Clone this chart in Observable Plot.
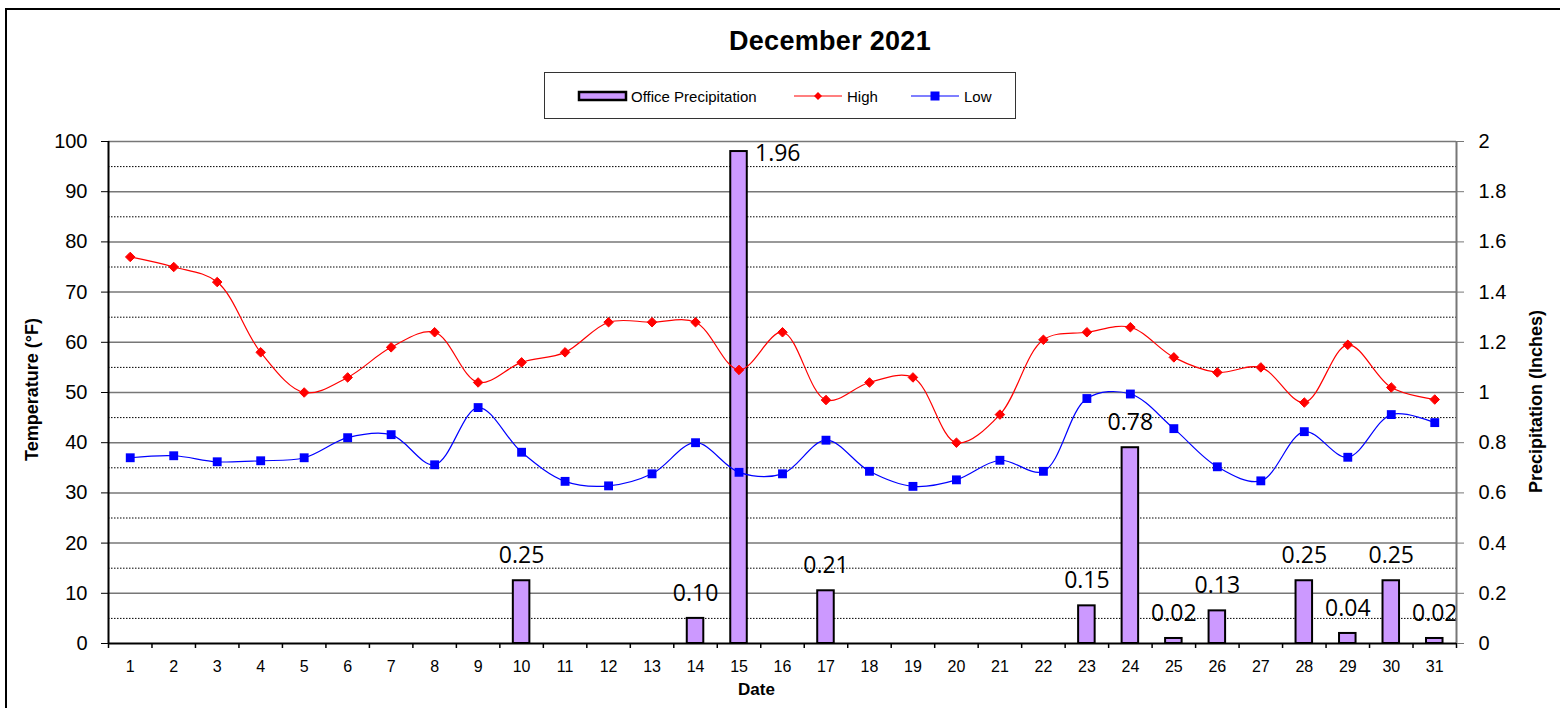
<!DOCTYPE html>
<html>
<head>
<meta charset="utf-8">
<script src="https://cdn.jsdelivr.net/npm/d3@7"></script>
<script src="https://cdn.jsdelivr.net/npm/@observablehq/plot@0.6"></script>
<style>
  html, body { margin: 0; padding: 0; background: #fff; }
  #wrap { position: relative; width: 1560px; height: 708px; overflow: hidden; font-family: "Liberation Sans", Arial, sans-serif; }
  #header { position: relative; width: 1560px; height: 125px; }
  #title { position: absolute; left: 0; width: 1660px; top: 26px; text-align: center; font-size: 27px; font-weight: bold; color: #000; letter-spacing: 0.3px; }
  #legend { position: absolute; left: 544px; top: 72px; width: 472px; height: 47px; border: 1px solid #333; box-sizing: border-box; }
  #frame { position: absolute; left: 5px; top: 8px; width: 1600px; height: 800px; border-top: 2px solid #000; border-left: 2px solid #000; pointer-events: none; }
</style>
</head>
<body>
<div id="wrap">
  <div id="header">
    <div id="title">December 2021</div>
    <div id="legend"></div>
  </div>
  <div id="chart"></div>
  <div id="frame"></div>
</div>
<script>
// ---- data ----
const days = [1,2,3,4,5,6,7,8,9,10,11,12,13,14,15,16,17,18,19,20,21,22,23,24,25,26,27,28,29,30,31];
const highs = [77,75,72,58,50,53,59,62,52,56,58,64,64,64,54.5,62,48.5,52,53,40,45.6,60.5,62,63,57,54,55,48,59.5,51,48.6];
const lows = [37,37.4,36.2,36.4,37,41,41.6,35.6,47,38.1,32.3,31.4,33.8,40,34.1,33.8,40.5,34.3,31.3,32.6,36.5,34.3,48.8,49.7,42.8,35.2,32.4,42.2,37.1,45.6,44];
const precips = [0,0,0,0,0,0,0,0,0,0.25,0,0,0,0.10,1.96,0,0.21,0,0,0,0,0,0.15,0.78,0.02,0.13,0,0.25,0.04,0.25,0.02];
const tempTicks = [0,10,20,30,40,50,60,70,80,90,100];
const precipTicks = [0,0.2,0.4,0.6,0.8,1,1.2,1.4,1.6,1.8,2];
const seriesNames = ["Office Precipitation", "High", "Low"];
const colors = {precip: "#CC99FF", high: "#FF0000", low: "#0000FF"};

// ---- derived ----
const tempMax = tempTicks[tempTicks.length - 1];
const precipMax = precipTicks[precipTicks.length - 1];
const k = tempMax / precipMax; // temperature units per inch
const rows = days.map((d, i) => ({day: d, high: highs[i], low: lows[i], precip: precips[i]}));
const wet = rows.filter(r => r.precip > 0);
const big = wet.filter(r => r.precip > 1.5);
const small = wet.filter(r => r.precip <= 1.5);
const minorTicks = tempTicks.slice(1).map(t => t - 5);
const boundaries = days.map(d => d - 0.5).concat([days[days.length - 1] + 0.5]);
const x0 = days[0] - 0.5, x1 = days[days.length - 1] + 0.5;

const chart = Plot.plot({
  width: 1560,
  height: 583,
  marginTop: 16,
  marginBottom: 65,
  marginLeft: 108,
  marginRight: 104,
  x: {type: "linear", domain: [x0, x1]},
  y: {domain: [0, tempMax]},
  style: {fontFamily: "'Liberation Sans', Arial, sans-serif", background: "white", overflow: "visible", color: "#000"},
  marks: [
    Plot.ruleY(minorTicks, {x1: x0, x2: x1, stroke: "#000", strokeWidth: 1, strokeDasharray: "1.5,1.5"}),
    Plot.ruleY(tempTicks.slice(1), {x1: x0, x2: x1, stroke: "#777", strokeWidth: 1.5}),
    Plot.rectY(wet, {x1: d => d.day - 0.19, x2: d => d.day + 0.19, y1: 0, y2: d => d.precip * k, fill: colors.precip, stroke: "#000", strokeWidth: 2}),
    Plot.line(rows, {x: "day", y: "high", curve: "catmull-rom", stroke: colors.high, strokeWidth: 1.2}),
    Plot.dot(rows, {x: "day", y: "high", symbol: "diamond2", r: 4.3, fill: colors.high, stroke: colors.high, strokeWidth: 1}),
    Plot.line(rows, {x: "day", y: "low", curve: "catmull-rom", stroke: colors.low, strokeWidth: 1.2}),
    Plot.dot(rows, {x: "day", y: "low", symbol: "square", r: 5, fill: colors.low, stroke: "none"}),
    Plot.text(small, {x: "day", y: d => (d.precip + 0.1) * k, text: d => d.precip.toFixed(2), fontFamily: "'Open Sans', sans-serif", fontSize: 23, fill: "#000"}),
    Plot.text(big, {x: "day", y: d => d.precip * k, text: d => d.precip.toFixed(2), textAnchor: "start", dx: 16, dy: 2, fontFamily: "'Open Sans', sans-serif", fontSize: 23, fill: "#000"}),
    Plot.ruleX([x1], {y1: 0, y2: tempMax, stroke: "#777", strokeWidth: 2}),
    Plot.ruleX([x0], {y1: 0, y2: tempMax, stroke: "#000", strokeWidth: 2}),
    Plot.ruleY([0], {x1: x0, x2: x1, stroke: "#000", strokeWidth: 2}),
    Plot.ruleX(boundaries, {y1: 0, y2: -1, stroke: "#000", strokeWidth: 1.5}),
    Plot.axisY({anchor: "left", ticks: tempTicks, tickSize: 7, tickPadding: 14, fontSize: 20, label: null, stroke: "#000", tickFormat: d => String(d)}),
    Plot.axisY({anchor: "right", ticks: precipTicks.map(p => p * k), tickSize: 7, tickPadding: 15, fontSize: 20, label: null, stroke: "#777", tickFormat: d => String(+(d / k).toFixed(1))}),
    Plot.axisX({ticks: days, tickSize: 0, tickPadding: 17, fontSize: 16, label: null, tickFormat: d => String(d)}),
    Plot.text(["Temperature (°F)"], {frameAnchor: "left", textAnchor: "middle", dx: -76, dy: -3, rotate: -90, fontSize: 18, fontWeight: "bold", fill: "#000"}),
    Plot.text(["Precipitation (Inches)"], {frameAnchor: "right", textAnchor: "middle", dx: 80, dy: 9, rotate: -90, fontSize: 18, fontWeight: "bold", fill: "#000"}),
    Plot.text(["Date"], {frameAnchor: "bottom", textAnchor: "middle", dx: -26, dy: 51, fontSize: 17, fontWeight: "bold", fill: "#000"})
  ]
});
document.getElementById("chart").appendChild(chart);

// ---- legend ----
const ns = "http://www.w3.org/2000/svg";
const lg = document.createElementNS(ns, "svg");
lg.setAttribute("width", 470);
lg.setAttribute("height", 45);
lg.style.fontFamily = "'Liberation Sans', Arial, sans-serif";
lg.innerHTML = `
  <rect x="34" y="19" width="47" height="8" fill="${colors.precip}" stroke="#000" stroke-width="2.5"/>
  <text x="86" y="23" dominant-baseline="central" font-size="15">${seriesNames[0]}</text>
  <line x1="249" x2="297" y1="23" y2="23" stroke="${colors.high}" stroke-width="1.2"/>
  <path d="M273,19 L277,23 L273,27 L269,23 Z" fill="${colors.high}"/>
  <text x="302" y="23" dominant-baseline="central" font-size="15">${seriesNames[1]}</text>
  <line x1="366" x2="414" y1="23" y2="23" stroke="${colors.low}" stroke-width="1.2"/>
  <rect x="385.5" y="18.5" width="9" height="9" fill="${colors.low}"/>
  <text x="419" y="23" dominant-baseline="central" font-size="15">${seriesNames[2]}</text>
`;
document.getElementById("legend").appendChild(lg);
</script>
</body>
</html>
